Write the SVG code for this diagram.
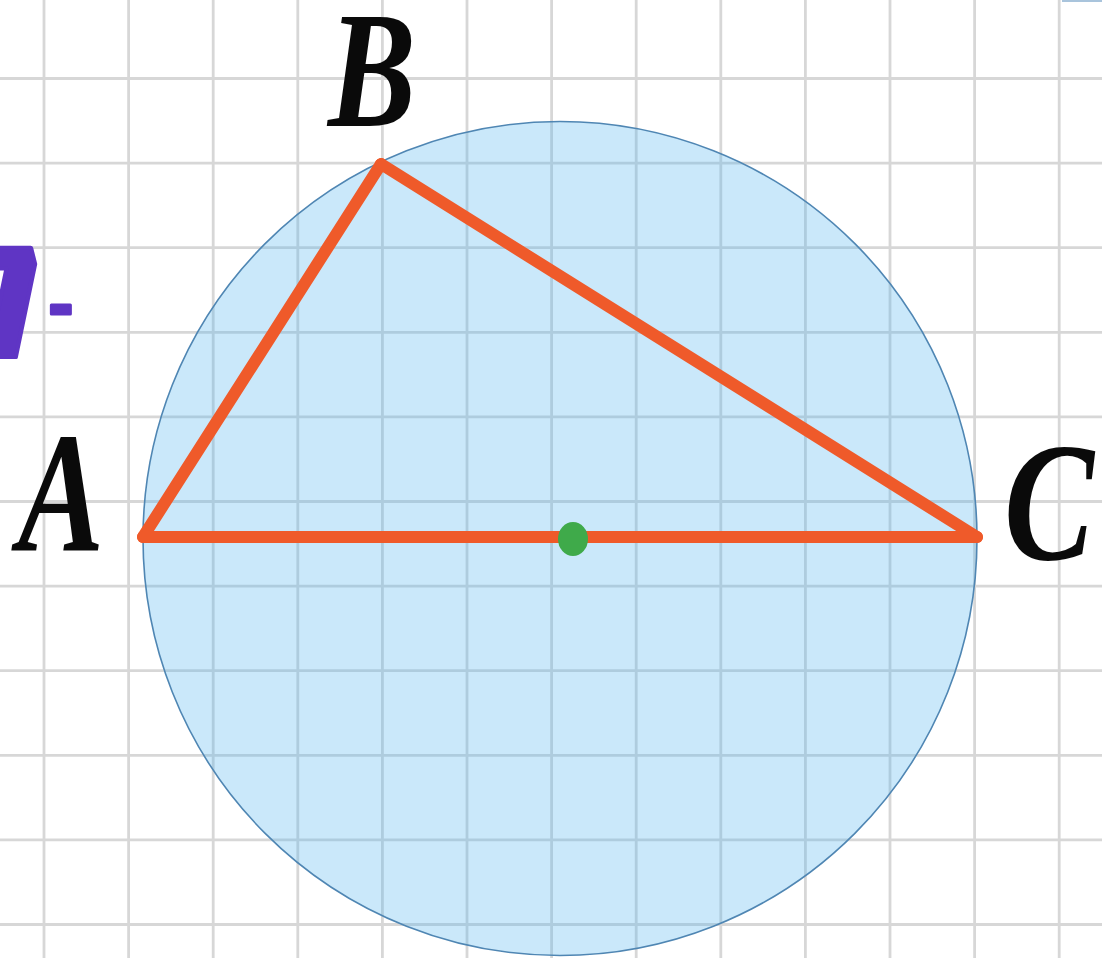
<svg xmlns="http://www.w3.org/2000/svg" width="1102" height="958" viewBox="0 0 1102 958">
  <style>
    .grid line { stroke: #d7d7d7; stroke-width: 2.8; }
    .lbl { font-family: "Liberation Serif", "DejaVu Serif", serif; font-style: italic; font-weight: bold; fill: #0a0a0a; }
    .side { stroke: #ef5a2a; stroke-width: 12; stroke-linecap: round; fill: none; }
  </style>
  <rect x="0" y="0" width="1102" height="958" fill="#ffffff"/>
  <g id="grid" class="grid">
    <line x1="44" y1="0" x2="44" y2="958"/>
    <line x1="128.6" y1="0" x2="128.6" y2="958"/>
    <line x1="213.2" y1="0" x2="213.2" y2="958"/>
    <line x1="297.8" y1="0" x2="297.8" y2="958"/>
    <line x1="382.4" y1="0" x2="382.4" y2="958"/>
    <line x1="467" y1="0" x2="467" y2="958"/>
    <line x1="551.6" y1="0" x2="551.6" y2="958"/>
    <line x1="636.2" y1="0" x2="636.2" y2="958"/>
    <line x1="720.8" y1="0" x2="720.8" y2="958"/>
    <line x1="805.4" y1="0" x2="805.4" y2="958"/>
    <line x1="890" y1="0" x2="890" y2="958"/>
    <line x1="974.6" y1="0" x2="974.6" y2="958"/>
    <line x1="1059.2" y1="0" x2="1059.2" y2="958"/>
    <line x1="0" y1="78.5" x2="1102" y2="78.5"/>
    <line x1="0" y1="163.1" x2="1102" y2="163.1"/>
    <line x1="0" y1="247.7" x2="1102" y2="247.7"/>
    <line x1="0" y1="332.3" x2="1102" y2="332.3"/>
    <line x1="0" y1="416.9" x2="1102" y2="416.9"/>
    <line x1="0" y1="501.5" x2="1102" y2="501.5"/>
    <line x1="0" y1="586.1" x2="1102" y2="586.1"/>
    <line x1="0" y1="670.7" x2="1102" y2="670.7"/>
    <line x1="0" y1="755.3" x2="1102" y2="755.3"/>
    <line x1="0" y1="839.9" x2="1102" y2="839.9"/>
    <line x1="0" y1="924.5" x2="1102" y2="924.5"/>
  </g>
  <line x1="1062" y1="1" x2="1102" y2="1" stroke="#a9c4dc" stroke-width="2"/>
  <g id="circumcircle">
    <circle cx="560" cy="538.5" r="417" fill="#4fb3ef" fill-opacity="0.3" stroke="#4f86b3" stroke-width="1.6"/>
  </g>
  <g id="connectors">
    <line id="AB" class="side" x1="143" y1="537" x2="381" y2="164"/>
    <line id="BC" class="side" x1="381" y1="164" x2="977" y2="537"/>
    <line id="AC" class="side" x1="143" y1="537" x2="977" y2="537"/>
  </g>
  <g id="center">
    <ellipse cx="573" cy="539" rx="15" ry="17" fill="#3faa4a"/>
  </g>
  <g id="vertex-B">
    <text class="lbl" x="328" y="126" font-size="166" textLength="88" lengthAdjust="spacingAndGlyphs">B</text>
  </g>
  <g id="vertex-A">
    <text class="lbl" x="18" y="551" font-size="172" textLength="86" lengthAdjust="spacingAndGlyphs">A</text>
  </g>
  <g id="vertex-C">
    <text class="lbl" x="1004" y="559" font-size="170" textLength="90" lengthAdjust="spacingAndGlyphs">C</text>
  </g>
  <g id="task-number">
    <text transform="translate(0,357) skewX(14) translate(0,-357)" font-family="'DejaVu Sans', sans-serif" font-weight="bold" fill="#5f35c4" font-size="150" stroke="#5f35c4" stroke-width="4" stroke-linejoin="round"><tspan x="-34" y="357">7</tspan></text>
    <text font-family="'DejaVu Sans', sans-serif" font-weight="bold" fill="#5f35c4" font-size="62" stroke="#5f35c4" stroke-width="3" stroke-linejoin="round" x="48" y="328">-</text>
  </g>
</svg>
